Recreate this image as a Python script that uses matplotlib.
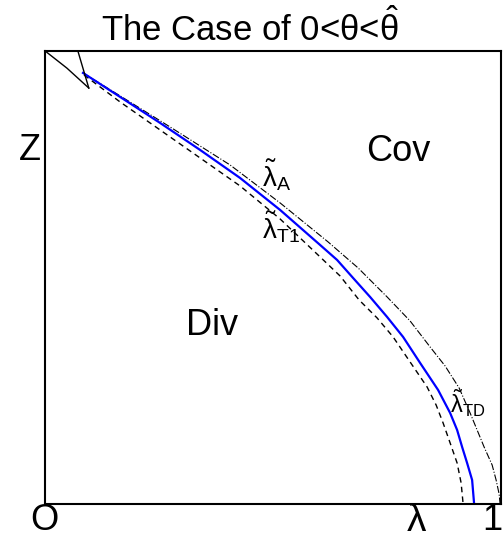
import matplotlib
matplotlib.use("Agg")
import matplotlib.pyplot as plt

plt.rcParams['font.family'] = ['Liberation Sans', 'DejaVu Sans']
plt.rcParams['mathtext.fontset'] = 'custom'
plt.rcParams['mathtext.rm'] = 'Liberation Sans'
plt.rcParams['mathtext.it'] = 'Liberation Sans'
plt.rcParams['mathtext.bf'] = 'Liberation Sans:bold'

# curves (lambda, Z)
blue_x = [0.0833, 0.1645, 0.2522, 0.3399, 0.4276, 0.5154, 0.6031, 0.6404, 0.6754, 0.7127,
          0.7500, 0.7851, 0.8224, 0.8618, 0.8882, 0.9035, 0.9145, 0.9254, 0.9364, 0.9386, 0.9408]
blue_y = [0.9514, 0.8985, 0.8411, 0.7815, 0.7196, 0.6490, 0.5717, 0.5386, 0.4989, 0.4570,
          0.4128, 0.3687, 0.3113, 0.2517, 0.2009, 0.1634, 0.1258, 0.0905, 0.0530, 0.0265, 0.0]
t1_x = [0.0855, 0.1645, 0.2522, 0.3399, 0.4276, 0.5154, 0.6031, 0.6469, 0.6886, 0.7281,
        0.7632, 0.8004, 0.8377, 0.8575, 0.8728, 0.8882, 0.9035, 0.9123, 0.9167]
t1_y = [0.9470, 0.8874, 0.8256, 0.7638, 0.7020, 0.6291, 0.5453, 0.5033, 0.4503, 0.4106,
        0.3687, 0.3135, 0.2583, 0.2185, 0.1788, 0.1347, 0.0905, 0.0464, 0.0]
a_x = [0.0833, 0.1754, 0.2741, 0.4057, 0.5154, 0.6206, 0.6864, 0.7500, 0.8004, 0.8443,
       0.8772, 0.9079, 0.9320, 0.9627, 0.9803, 0.9890, 0.9956, 0.9978]
a_y = [0.9514, 0.8940, 0.8322, 0.7483, 0.6645, 0.5784, 0.5210, 0.4570, 0.4040, 0.3466,
       0.3046, 0.2561, 0.2009, 0.1258, 0.0861, 0.0530, 0.0221, 0.0]
corner_x = [0.0, 0.048, 0.096]
corner_y = [1.0, 0.962, 0.918]
steep_x = [0.072, 0.096]
steep_y = [1.0, 0.918]

fig = plt.figure(figsize=(5.04, 5.42), dpi=100)
ax = fig.add_axes([0.0893, 0.0701, 0.905, 0.836])

ax.plot(a_x, a_y, color='black', lw=0.8, ls='-.')
ax.plot(t1_x, t1_y, color='black', lw=1.0, ls=(0, (4, 3)))
ax.plot(blue_x, blue_y, color='blue', lw=1.6)
ax.plot(corner_x, corner_y, color='black', lw=1.0)
ax.plot(steep_x, steep_y, color='black', lw=1.0)

ax.set_xlim(0, 1)
ax.set_ylim(0, 1)
ax.set_xticks([])
ax.set_yticks([])
for s in ax.spines.values():
    s.set_linewidth(1.5)

fs = 26
ax.text(-0.002, -0.0375, 'O', fontsize=fs, ha='center', va='center', clip_on=False)
ax.text(0.815, -0.0375, r'$\lambda$', fontsize=fs + 2, ha='center', va='center', clip_on=False)
ax.text(1.003, -0.0375, '1', fontsize=fs, ha='right', va='center', clip_on=False)
ax.text(-0.033, 0.781, 'Z', fontsize=fs, ha='center', va='center', clip_on=False)
ax.text(0.366, 0.395, 'Div', fontsize=fs, ha='center', va='center')
ax.text(0.774, 0.777, 'Cov', fontsize=fs, ha='center', va='center')

ax.text(0.476, 0.700, r'$\tilde{\lambda}_{\mathrm{A}}$', fontsize=20, ha='left', va='baseline')
ax.text(0.476, 0.587, r'$\tilde{\lambda}_{\mathrm{T1}}$', fontsize=20, ha='left', va='baseline')
ax.text(0.888, 0.201, r'$\tilde{\lambda}_{\mathrm{TD}}$', fontsize=17, ha='left', va='baseline')

fig.text(0.496, 0.925, r'The Case of 0<$\theta$<$\hat{\theta}$', fontsize=25,
         ha='center', va='baseline')

fig.savefig('out.png', dpi=100)
